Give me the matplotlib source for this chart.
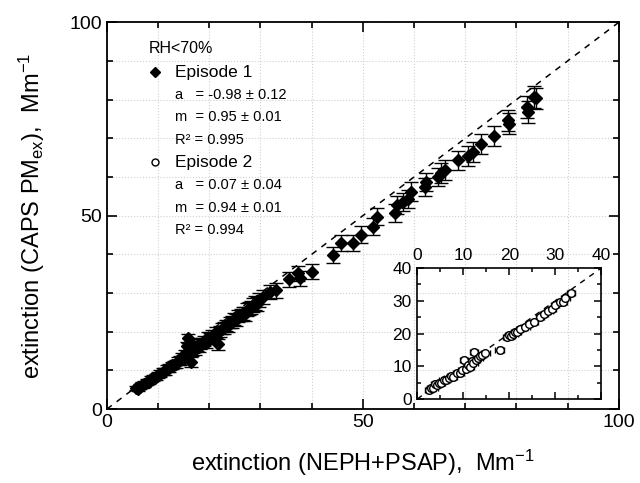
import numpy as np
import matplotlib
matplotlib.use("Agg")
import matplotlib.pyplot as plt
from matplotlib.lines import Line2D
from matplotlib.ticker import MultipleLocator

plt.rcParams["font.family"] = ["Liberation Sans", "DejaVu Sans"]
plt.rcParams["mathtext.default"] = "regular"
plt.rcParams["axes.unicode_minus"] = False

# Episode 1 (main panel)
ep1_x = [5.6, 6.0, 6.4, 6.9, 7.3, 7.8, 8.2, 8.7, 9.1, 9.6, 10.0, 10.4, 10.9, 11.3,
         11.8, 12.2, 12.7, 13.1, 13.5, 13.9, 14.3, 14.6, 15.0, 15.3, 15.6, 15.9,
         16.2, 16.5, 16.7, 17.0, 17.3, 17.6, 17.9, 18.2, 18.6, 19.0, 19.4, 19.8,
         20.2, 20.6, 21.0, 21.3, 21.7, 22.1, 22.5, 22.9, 23.3, 23.7, 24.1, 24.5,
         24.9, 25.3, 25.7, 26.1, 26.5, 26.9, 27.3, 27.7, 28.1, 28.5, 28.9, 29.3,
         29.7, 30.5, 31.8, 33.1, 35.6, 37.4, 37.7, 40.0, 44.2, 45.8, 48.1, 49.6,
         51.9, 52.7, 56.3, 56.6, 57.9, 58.9, 59.4, 62.1, 62.4, 64.7, 65.2, 66.0,
         68.6, 70.6, 71.5, 73.0, 75.6, 78.5, 78.4, 82.3, 82.0, 83.4, 83.9]
ep1_y = [5.5, 5.2, 5.8, 6.2, 6.5, 7.0, 7.1, 7.8, 8.0, 8.4, 8.9, 9.1, 9.6, 9.8,
         10.4, 10.6, 11.3, 11.5, 11.7, 12.4, 12.6, 13.4, 13.0, 14.2, 16.2, 18.3,
         17.3, 12.2, 14.8, 15.9, 15.3, 16.4, 16.0, 16.8, 17.2, 17.5, 17.2, 18.4,
         18.3, 19.0, 18.6, 19.8, 16.8, 20.1, 20.8, 21.0, 21.6, 21.4, 22.4, 22.5,
         23.3, 23.0, 24.1, 24.4, 24.8, 24.6, 25.7, 26.0, 26.2, 27.0, 27.4, 27.2,
         28.3, 29.0, 30.3, 30.7, 33.5, 35.1, 33.8, 35.5, 39.8, 43.0, 43.0, 45.1,
         47.1, 49.7, 50.6, 52.7, 53.6, 54.4, 56.2, 57.4, 58.7, 60.0, 61.0, 61.8,
         64.3, 65.4, 66.5, 68.5, 70.5, 73.8, 74.7, 76.8, 78.1, 80.7, 80.3]
ep1_yerr = [0.6, 0.6, 0.6, 0.7, 0.7, 0.7, 0.7, 0.8, 0.8, 0.8, 0.8, 0.9, 0.9, 0.9,
            0.9, 1.0, 1.0, 1.0, 1.0, 1.0, 1.1, 1.1, 1.1, 1.1, 1.2, 1.2,
            1.2, 1.2, 1.2, 1.2, 1.2, 1.3, 1.3, 1.3, 1.3, 1.3, 1.3, 1.4,
            1.4, 1.4, 1.4, 1.4, 1.4, 1.5, 1.5, 1.5, 1.5, 1.5, 1.5, 1.6,
            1.6, 1.6, 1.6, 1.6, 1.7, 1.7, 1.7, 1.7, 1.7, 1.8, 1.8, 1.8,
            1.8, 1.8, 1.9, 1.9, 2.0, 2.0, 2.0, 2.0, 2.1, 2.1, 2.1, 2.2,
            2.2, 2.2, 2.3, 2.3, 2.3, 2.3, 2.4, 2.4, 2.4, 2.4, 2.5, 2.5,
            2.5, 2.5, 2.6, 2.6, 2.6, 2.7, 2.7, 2.8, 2.8, 2.8, 2.8]

# Episode 2 (inset)
ep2_x = [2.5, 3.0, 3.5, 3.9, 4.3, 4.8, 5.2, 5.7, 6.2, 6.8, 7.3, 7.8, 8.6, 9.2,
         9.7, 10.1, 10.6, 11.0, 11.5, 11.9, 12.2, 12.4, 12.8, 13.3, 13.7, 14.1,
         14.8, 17.9, 19.5, 20.0, 20.4, 20.9, 21.3, 21.7, 22.4, 23.5, 24.3, 25.3,
         26.7, 27.5, 28.5, 29.3, 30.0, 31.1, 31.6, 32.2, 33.4]
ep2_y = [2.7, 3.5, 3.3, 4.6, 4.3, 5.0, 4.8, 5.8, 5.9, 6.3, 7.0, 6.8, 7.8, 8.0,
         8.7, 11.9, 9.3, 10.4, 9.9, 11.6, 10.9, 14.4, 11.8, 12.4, 13.0, 13.4,
         13.9, 15.0, 19.0, 19.5, 19.1, 19.8, 20.6, 20.6, 21.3, 22.1, 22.9, 23.6,
         25.1, 26.0, 26.9, 27.6, 28.7, 29.7, 29.5, 30.9, 32.3]
ep2_err = 0.9

legend_lines = ["Episode 1", "a   = -0.98 \u00b1 0.12", "m  = 0.95 \u00b1 0.01", "R\u00b2 = 0.995",
                "Episode 2", "a   = 0.07 \u00b1 0.04", "m  = 0.94 \u00b1 0.01", "R\u00b2 = 0.994"]

fig = plt.figure(figsize=(6.4, 4.83), dpi=100)
ax = fig.add_axes([0.167, 0.153, 0.800, 0.801])

ax.plot([0, 100], [0, 100], ls=(0, (4, 4)), color="black", lw=1.1, zorder=2)
ax.errorbar(ep1_x, ep1_y, yerr=ep1_yerr, fmt="D", color="black", ms=6,
            ecolor="black", elinewidth=1, capsize=5, capthick=1, zorder=3)

ax.set_xlim(0, 100)
ax.set_ylim(0, 100)
ax.xaxis.set_major_locator(MultipleLocator(50))
ax.yaxis.set_major_locator(MultipleLocator(50))
ax.xaxis.set_minor_locator(MultipleLocator(10))
ax.yaxis.set_minor_locator(MultipleLocator(10))
ax.tick_params(which="both", direction="in", top=True, right=True, labelsize=14)
ax.tick_params(which="major", length=7, width=1.2)
ax.tick_params(which="minor", length=4, width=1.2)
ax.grid(which="both", ls=":", color="#d0d0d0", lw=0.8)
for s in ax.spines.values():
    s.set_linewidth(1.3)
ax.set_xlabel("extinction (NEPH+PSAP),  Mm$^{-1}$", fontsize=17, labelpad=12)
ax.set_ylabel("extinction (CAPS PM$_{ex}$),  Mm$^{-1}$", fontsize=17, labelpad=16)

handles = [Line2D([], [], marker="D", color="black", ls="none", ms=5)]
handles += [Line2D([], [], ls="none")] * 3
handles += [Line2D([], [], marker="o", mfc="white", mec="black", ls="none", ms=5)]
handles += [Line2D([], [], ls="none")] * 3
leg = ax.legend(handles, legend_lines, loc="upper left", bbox_to_anchor=(0.07, 0.965),
                frameon=False, title="RH<70%", alignment="left", handlelength=1.0,
                handletextpad=0.9, labelspacing=0.6, borderaxespad=0)
leg.get_title().set_fontsize(11.5)
for i, t in enumerate(leg.get_texts()):
    t.set_fontsize(12.5 if i in (0, 4) else 10.5)

ins = fig.add_axes([0.652, 0.174, 0.2875, 0.271])
ins.set_facecolor("none")
ins.plot([0, 40], [0, 40], ls=(0, (4, 4)), color="black", lw=1.0, zorder=2)
ins.errorbar(ep2_x, ep2_y, xerr=ep2_err, yerr=ep2_err, fmt="o", mfc="white", mec="black",
             mew=1, ms=5.5, ecolor="black", elinewidth=0.9, capsize=2, zorder=3)
ins.set_xlim(0, 40)
ins.set_ylim(0, 40)
ins.xaxis.set_major_locator(MultipleLocator(10))
ins.yaxis.set_major_locator(MultipleLocator(10))
ins.xaxis.set_minor_locator(MultipleLocator(5))
ins.yaxis.set_minor_locator(MultipleLocator(5))
ins.tick_params(which="both", direction="in", top=True, right=True, bottom=True,
                labeltop=True, labelbottom=False, labelsize=12.5, pad=4)
ins.tick_params(which="major", length=5, width=1.1)
ins.tick_params(which="minor", length=3, width=1.1)
for s in ins.spines.values():
    s.set_linewidth(1.2)

fig.savefig("out.png", dpi=100)
